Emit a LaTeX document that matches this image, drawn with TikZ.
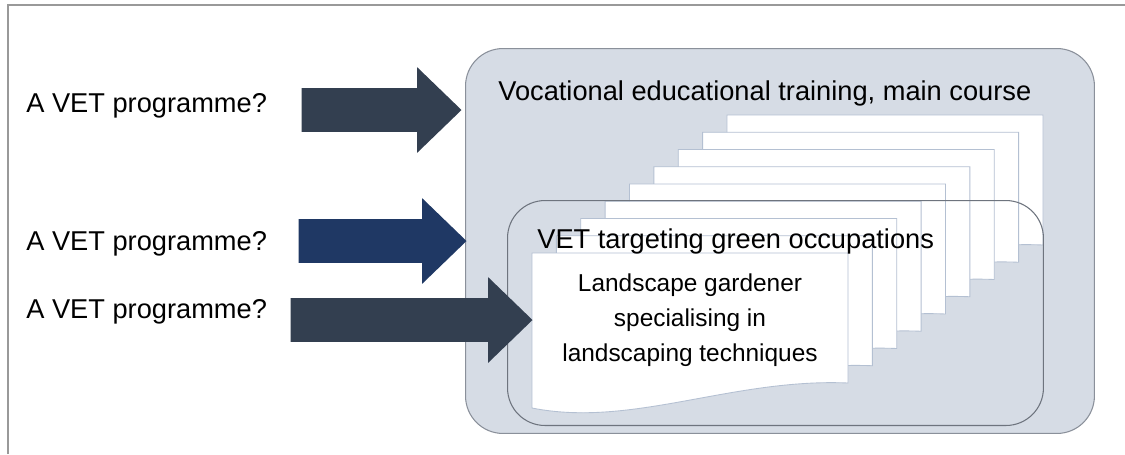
\documentclass[tikz,border=0pt]{standalone}
\usepackage{fontspec}
\setmainfont{Liberation Sans}
\usepackage{tikz}
\usetikzlibrary{shapes.arrows}
\definecolor{boxfill}{HTML}{D6DCE5}
\definecolor{boxline}{HTML}{8A909A}
\definecolor{innerline}{HTML}{6E747E}
\definecolor{sheetline}{HTML}{B4C0D2}
\definecolor{slate}{HTML}{333F50}
\definecolor{navy}{HTML}{1F3864}

\begin{document}
\begin{tikzpicture}
		[
			x=0.02cm,y=-0.02cm,
			every node/.style={
					inner sep=0pt,font=\fontsize{15.5}{18.6}\selectfont},
			question/.style={anchor=base west},
			bigarrow/.style={single arrow,inner xsep=0pt,inner ysep=0.43cm,
					single arrow head extend=0.42cm,single arrow tip angle=88,anchor=tip},
			coursebox/.style={draw=boxline,fill=boxfill,line width=0.6pt,
					rounded corners=0.75cm,anchor=north west},
			sheet/.style={fill=white,draw=sheetline,line width=0.5pt}]
		\useasboundingbox (0,0) rectangle (1125,454);
		\draw[gray!80,line width=0.8pt] (8,454) -- (8,5) -- (1125,5);
		% main course box
		\node[coursebox,minimum width=12.58cm,minimum height=7.7cm] (course) at (465,48) {};
		% stack of sheets, back to front
		\foreach \i in {0,...,8}
			{
				\draw[sheet,shift={(727-24.375*\i,115+17.25*\i)}]
				(0,0) -- (316,0) -- (316,130) .. controls (200,125) and (100,175) .. (0,155) -- cycle;
			}
		\node[coursebox,fill=none,draw=innerline,minimum width=10.72cm,minimum height=4.5cm] (green) at (507,200) {};
		\node[anchor=base west] (coursetitle) at (498,100) {Vocational educational training, main course};
		\node[anchor=base west] (greentitle) at (537,248) {VET targeting green occupations};
		\node[align=center,font=\fontsize{13.9}{19.9}\selectfont] (gardener) at (690,320)
		{Landscape gardener\\specialising in\\landscaping techniques};
		% questions and arrows
		\node[question] (q1) at (26,112) {A VET programme?};
		\node[question] (q2) at (26,250) {A VET programme?};
		\node[question] (q3) at (26,318) {A VET programme?};
		\node[bigarrow,fill=slate,minimum height=3.2cm] (a1) at (462,110) {};
		\node[bigarrow,fill=navy,minimum height=3.36cm] (a2) at (467,241) {};
		\node[bigarrow,fill=slate,minimum height=4.84cm] (a3) at (533,320) {};
	\end{tikzpicture}
\end{document}
